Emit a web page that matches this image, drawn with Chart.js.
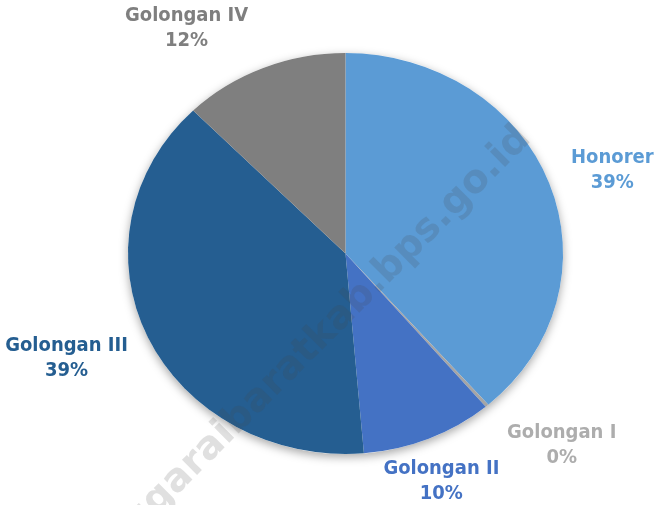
<!DOCTYPE html>
<html>
<head>
<meta charset="utf-8">
<script src="https://cdn.jsdelivr.net/npm/chart.js@4/dist/chart.umd.min.js"></script>
<style>
  html, body { margin: 0; padding: 0; background: #fff; }
  canvas { display: block; }
</style>
</head>
<body>
<canvas id="chartCanvas" width="656" height="505"></canvas>
<script>
// shares of employees by status (percent)
const categories = ["Honorer", "Golongan I", "Golongan II", "Golongan III", "Golongan IV"];
const shares = [38.6, 0.25, 9.8, 39.0, 12.35];
const sliceColors = ["#5B9BD5", "#A5A5A5", "#4472C4", "#255E91", "#7F7F7F"];
const labelColors = ["#5B9BD5", "#ADADAD", "#4472C4", "#255E91", "#7F7F7F"];

// pie in the picture is a bit wider than tall
const STRETCH_X = 1.085;
const labelFont = "bold 20px 'DejaVu Sans Condensed', 'DejaVu Sans', sans-serif";
// small nudges so labels sit where the spreadsheet put them
const labelNudge = [[-6, 3], [18, 6], [-22, 1], [4, 3], [-41, 2]];

const ellipsePie = {
  id: "ellipsePie",
  beforeDatasetsDraw(chart) {
    const arc = chart.getDatasetMeta(0).data[0];
    const ctx = chart.ctx;
    const r = arc.outerRadius;
    // soft shadow under the whole pie
    ctx.save();
    ctx.beginPath();
    ctx.ellipse(arc.x, arc.y, r * STRETCH_X, r, 0, 0, Math.PI * 2);
    ctx.shadowColor = "rgba(0,0,0,0.35)";
    ctx.shadowBlur = 10;
    ctx.shadowOffsetY = 3;
    ctx.fillStyle = "#fff";
    ctx.fill();
    ctx.restore();

    ctx.save();
    ctx.translate(arc.x, arc.y);
    ctx.scale(STRETCH_X, 1);
    ctx.translate(-arc.x, -arc.y);
  },
  afterDatasetsDraw(chart) {
    chart.ctx.restore();
  },
  afterDraw(chart) {
    const ctx = chart.ctx;
    const meta = chart.getDatasetMeta(0);
    ctx.save();
    ctx.font = labelFont;
    ctx.textAlign = "center";
    ctx.textBaseline = "middle";
    meta.data.forEach((arc, i) => {
      const mid = (arc.startAngle + arc.endAngle) / 2;
      const line1 = categories[i];
      const line2 = Math.round(shares[i]) + "%";
      const w = ctx.measureText(line1).width;
      const rx = arc.outerRadius * 1.247 + w / 2;
      const ry = arc.outerRadius * 1.222;
      const x = arc.x + Math.cos(mid) * rx + labelNudge[i][0];
      const y = arc.y + Math.sin(mid) * ry + labelNudge[i][1];
      ctx.fillStyle = labelColors[i];
      ctx.fillText(line1, x, y - 12.5);
      ctx.fillText(line2, x, y + 12.5);
    });
    ctx.restore();

    // site watermark
    ctx.save();
    ctx.translate(532, 140);
    ctx.rotate(-Math.PI / 4);
    ctx.font = "bold 39px 'DejaVu Sans', sans-serif";
    ctx.textAlign = "right";
    ctx.textBaseline = "alphabetic";
    ctx.fillStyle = "rgba(70,70,70,0.17)";
    ctx.fillText("manggaraibaratkab.bps.go.id", 0, 0);
    ctx.restore();
  }
};

new Chart(document.getElementById("chartCanvas"), {
  type: "pie",
  data: {
    labels: categories,
    datasets: [{
      data: shares,
      backgroundColor: sliceColors,
      borderWidth: 0,
      hoverBorderWidth: 0,
      hoverOffset: 0
    }]
  },
  options: {
    responsive: false,
    animation: false,
    events: [],
    layout: { padding: { top: 53, bottom: 51, left: 145, right: 110 } },
    plugins: {
      legend: { display: false },
      tooltip: { enabled: false }
    }
  },
  plugins: [ellipsePie]
});
</script>
</body>
</html>
